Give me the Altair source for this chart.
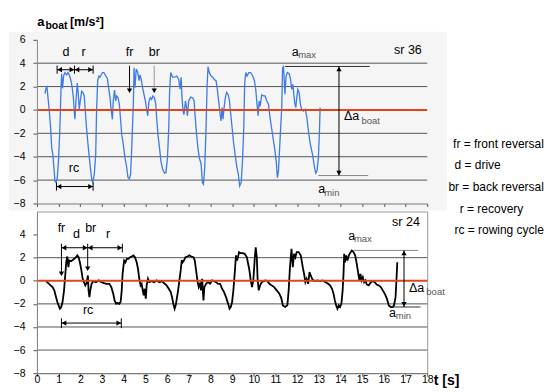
import altair as alt
import pandas as pd

FONT = "Liberation Sans"

# ---------------- data: boat acceleration, stroke rate 36 (top) ----------------
t_top = [0.37, 0.42, 0.46, 0.51, 0.57, 0.63, 0.68, 0.74, 0.78, 0.83, 0.88, 0.94, 1.0, 1.06, 1.11, 1.14, 1.18, 1.23, 1.29, 1.37,
         1.43, 1.51, 1.57, 1.63, 1.68, 1.72, 1.75, 1.8, 1.86, 1.91, 1.95, 2.0, 2.06, 2.12, 2.18, 2.23, 2.28, 2.34, 2.4, 2.48,
         2.54, 2.58, 2.65, 2.71, 2.75, 2.8, 2.86, 2.91, 3.02, 3.09, 3.18, 3.25, 3.31, 3.37, 3.43, 3.48, 3.52, 3.58, 3.63, 3.68,
         3.74, 3.8, 3.85, 3.91, 3.98, 4.06, 4.14, 4.2, 4.26, 4.32, 4.38, 4.45, 4.48, 4.52, 4.58, 4.65, 4.71, 4.75, 4.82, 4.88,
         4.94, 5.0, 5.06, 5.11, 5.17, 5.23, 5.29, 5.35, 5.42, 5.48, 5.52, 5.58, 5.65, 5.72, 5.8, 5.89, 5.95, 6.02, 6.08, 6.12,
         6.17, 6.26, 6.35, 6.45, 6.54, 6.6, 6.65, 6.69, 6.74, 6.78, 6.85, 6.89, 6.94, 7.0, 7.09, 7.18, 7.25, 7.29, 7.35, 7.42,
         7.49, 7.57, 7.63, 7.68, 7.74, 7.8, 7.85, 7.89, 7.95, 8.03, 8.11, 8.18, 8.26, 8.32, 8.38, 8.45, 8.49, 8.54, 8.58, 8.63,
         8.69, 8.75, 8.82, 8.88, 8.94, 9.0, 9.06, 9.14, 9.22, 9.29, 9.35, 9.42, 9.48, 9.54, 9.58, 9.63, 9.69, 9.77, 9.86, 9.95,
         10.03, 10.09, 10.15, 10.2, 10.25, 10.29, 10.37, 10.45, 10.52, 10.6, 10.68, 10.75, 10.83, 10.91, 10.98, 11.04, 11.09,
         11.14, 11.21, 11.29, 11.33, 11.37, 11.4, 11.44, 11.49, 11.55, 11.63, 11.69, 11.75, 11.8, 11.85, 11.89, 11.94, 11.98,
         12.03, 12.09, 12.15, 12.21, 12.28, 12.37, 12.45, 12.52, 12.61, 12.71, 12.8, 12.86, 12.92, 12.98, 13.03, 13.06]
a_top = [1.4, 1.85, 1.97, 1.05, -0.09, -1.51, -3.2, -3.9, -4.9, -6.07, -6.2, -5.8, -4.1, -1.5, 1.9, 3.1, 1.85, 2.9, 3.2, 3.0,
         3.2, 2.9, 2.5, 1.85, 1.05, -0.09, -0.8, 0.77, 2.3, 1.3, 0.06, 0.77, 1.6, 1.5, 1.2, -0.09, -1.37, -2.65, -3.8, -5.2,
         -6.07, -6.2, -5.4, -3.8, -0.1, 2.5, 2.9, 2.8, 3.2, 3.2, 2.9, 2.7, 1.85, 1.05, -0.1, -0.8, 0.77, 1.7, 0.77, 1.2,
         1.05, 0.5, -0.65, -2.1, -2.9, -4.1, -4.9, -5.8, -5.9, -5.5, -2.9, 0.77, 3.6, 1.9, 3.5, 3.2, 2.5, 3.0, 2.5, 1.85,
         1.3, 0.77, 0.06, -0.5, 0.77, 1.05, 0.9, 1.2, 1.05, 0.5, -0.65, -2.1, -3.2, -4.4, -5.1, -5.4, -5.35, -4.1, -1.5, 1.6,
         3.2, 2.8, 2.8, 2.9, 2.6, 1.77, 2.8, 1.05, -0.1, -0.4, 0.77, 0.3, -0.5, 0.77, 1.1, 1.05, 0.77, -0.4, -1.8, -3.2,
         -4.1, -4.6, -6.2, -6.35, -4.9, -1.5, 2.2, 3.7, 3.2, 2.9, 2.8, 2.6, 2.5, 1.77, 0.77, -0.4, -0.94, 0.2, -0.8, 0.2,
         1.05, 1.5, 1.3, 0.77, -0.4, -1.5, -2.65, -3.8, -4.9, -5.5, -6.5, -6.2, -4.4, -1.5, 2.2, 3.2, 2.9, 3.2, 3.2, 2.9,
         2.5, 1.77, 0.5, -0.5, 0.77, 0.3, 1.3, 1.2, 1.2, 0.77, 0.5, -0.65, -1.65, -2.65, -3.5, -4.5, -5.8,
         -5.2, -2.65, 0.2, 3.6, 3.7, 2.76, 1.34, 2.9, 3.2, 3.1, 2.7, 1.77, 2.2, 1.3, 0.6, 0.2, 1.0,
         1.77, 1.5, 0.48, 0.06, -0.1, 0.06, -0.65, -1.8, -2.95, -3.8, -4.9, -5.4, -5.2, -4.1, -1.8, 0.2]

# ---------------- data: boat acceleration, stroke rate 24 (bottom) ----------------
t_bot = [0.42, 0.52, 0.63, 0.72, 0.8, 0.88, 0.94, 1.0, 1.06, 1.12, 1.18, 1.25, 1.31, 1.35, 1.4, 1.45, 1.49, 1.57, 1.65, 1.72,
         1.8, 1.86, 1.92, 1.98, 2.05, 2.11, 2.17, 2.23, 2.29, 2.35, 2.38, 2.42, 2.46, 2.52, 2.6, 2.72, 2.85, 2.97, 3.09, 3.22,
         3.34, 3.43, 3.52, 3.58, 3.65, 3.72, 3.8, 3.86, 3.91, 3.95, 4.02, 4.08, 4.14, 4.22, 4.29, 4.37, 4.45, 4.52, 4.6, 4.66,
         4.72, 4.78, 4.83, 4.88, 4.92, 4.97, 5.02, 5.06, 5.12, 5.18, 5.29, 5.4, 5.52, 5.65, 5.77, 5.89, 5.98, 6.08, 6.17, 6.23,
         6.29, 6.35, 6.4, 6.45, 6.51, 6.57, 6.63, 6.68, 6.72, 6.78, 6.85, 6.94, 7.03, 7.12, 7.22, 7.28, 7.34, 7.4, 7.46, 7.52,
         7.57, 7.62, 7.68, 7.72, 7.8, 7.89, 7.98, 8.08, 8.17, 8.26, 8.35, 8.45, 8.54, 8.63, 8.72, 8.82, 8.88, 8.94, 9.0, 9.06,
         9.12, 9.18, 9.23, 9.28, 9.32, 9.4, 9.49, 9.58, 9.68, 9.74, 9.8, 9.86, 9.92, 9.98, 10.05, 10.09, 10.14, 10.18, 10.23,
         10.29, 10.37, 10.45, 10.54, 10.63, 10.72, 10.83, 10.94, 11.06, 11.18, 11.27, 11.34, 11.45, 11.55, 11.61, 11.67, 11.74,
         11.8, 11.86, 11.92, 11.98, 12.07, 12.17, 12.26, 12.32, 12.38, 12.44, 12.51, 12.57, 12.63, 12.69, 12.75, 12.84, 12.94,
         13.06, 13.18, 13.31, 13.43, 13.52, 13.61, 13.68, 13.74, 13.8, 13.86, 13.92, 13.98, 14.04, 14.1, 14.14, 14.17, 14.21,
         14.26, 14.32, 14.38, 14.44, 14.52, 14.6, 14.68, 14.75, 14.81, 14.87, 14.92, 14.97, 15.03, 15.09, 15.15, 15.21, 15.3,
         15.4, 15.49, 15.58, 15.67, 15.77, 15.86, 15.95, 16.04, 16.14, 16.23, 16.32, 16.41, 16.47, 16.54, 16.58, 16.62]
a_bot = [-0.03, -0.2, -0.4, -0.55, -0.83, -1.41, -1.84, -2.13, -2.42, -2.27, -1.84, -0.83, 0.6, 1.6, 2.1, 1.18, 1.75, 1.7, 1.8, 1.9,
         2.04, 2.2, 2.04, 1.6, 0.9, 0.17, -0.12, -0.4, -0.2, 0.46, -0.83, -1.41, -0.83, -0.26, -0.03, -0.12, 0.03, -0.12, -0.2, -0.26,
         -0.26, -0.55, -1.12, -1.7, -2.0, -1.93, -2.0, -1.84, -0.83, 0.6, 1.75, 1.6, 1.9, 1.9, 2.04, 2.1, 2.2, 2.04, 1.6, 1.04,
         0.17, -0.4, -0.26, -0.83, -1.27, -0.69, -1.55, -0.4, 0.17, -0.12, -0.03, -0.12, 0.03, -0.12, -0.03, -0.26, -0.4, -0.69, -0.98, -1.41,
         -2.0, -2.42, -2.13, -1.55, -0.83, 0.03, 0.9, 1.8, 1.6, 1.75, 2.04, 2.1, 2.2, 2.1, 2.04, 1.75, 0.9, 0.03, -0.55, -0.26,
         -0.83, 0.17, -1.7, -0.55, -0.26, -0.12, -0.26, 0.03, -0.03, -0.12, -0.26, -0.26, -0.69, -0.98, -1.41, -2.0, -2.42, -2.27, -1.84, -0.83,
         0.6, 2.2, 1.75, 2.1, 2.48, 2.39, 2.39, 2.33, 2.04, 1.47, 0.9, 0.03, -0.55, 0.03, 2.04, 2.9, 2.04, 0.03, -0.83,
         -0.4, -0.12, -0.03, 0.03, -0.03, -0.26, -0.4, -0.55, -0.83, -1.12, -1.5, -2.13, -2.27, -2.13, -0.83, 1.18, 2.76,
         1.17, 2.33, 2.04, 2.48, 2.48, 2.19, 1.18, 0.6, -0.12, 0.17, -0.26, 0.75, 0.46, 0.17, 0.03, -0.03, 0.03,
         -0.03, 0.03, -0.12, -0.26, -0.4, -0.69, -1.12, -1.7, -2.13, -2.42, -2.13, -2.27, -2.0, -0.83, 0.6, 2.33, 1.6,
         2.19, 1.75, 2.19, 2.39, 2.62, 2.48, 2.19, 1.47, 0.75, 0.03, 0.6, 0.03, 0.32, -0.12, 0.03, -0.32, -0.4,
         -0.12, -0.03, -0.12, -0.32, -0.4, -0.55, -0.83, -1.12, -1.55, -2.13, -2.27, -2.27, -2.13, -1.41, 0.03, 1.6]

x_ticks = list(range(0, 19))
y_ticks_top = [-8, -6, -4, -2, 0, 2, 4, 6]
y_ticks_bot = [-8, -6, -4, -2, 0, 2, 4]
grid_top = [-6, -4, -2, 2, 4]
grid_bot = [-6, -4, -2, 2]

# ---------------- annotations (in data units) ----------------
top_h = [(0.93, 1.73, 3.44, "#000"), (1.73, 2.59, 3.44, "#000"), (0.90, 2.59, -6.55, "#000"),
         (11.44, 15.35, 3.72, "#333"), (12.97, 15.28, -5.61, "#888")]
top_v = [(4.27, 3.78, 1.6, "#000"), (5.41, 3.78, 1.6, "#999"), (13.93, 3.72, -5.61, "#000"),
         (0.93, 3.1, 3.8, "#000"), (1.73, 3.1, 3.8, "#000"), (2.59, 3.1, 3.8, "#000"),
         (0.90, -6.2, -6.9, "#000"), (2.59, -6.2, -6.9, "#000")]
top_heads = [(0.93, 3.44, "L"), (1.73, 3.44, "R"), (1.73, 3.44, "L"), (2.59, 3.44, "R"),
             (0.90, -6.55, "L"), (2.59, -6.55, "R"), (4.27, 1.42, "D"), (5.41, 1.42, "D"),
             (13.93, 3.72, "U"), (13.93, -5.61, "D")]

bot_h = [(1.13, 2.34, 2.86, "#000"), (2.34, 3.94, 2.86, "#000"), (1.13, 3.89, -3.66, "#000"),
         (14.59, 17.58, 2.63, "#888"), (16.28, 17.69, -2.27, "#333")]
bot_v = [(1.13, 3.21, 0.55, "#000"), (2.34, 3.21, 1.0, "#000"), (16.93, 2.63, -2.27, "#000"),
         (3.94, 3.21, 2.45, "#000"), (1.13, -3.25, -4.1, "#000"), (3.89, -3.25, -4.1, "#000")]
bot_heads = [(1.13, 2.86, "L"), (2.34, 2.86, "R"), (2.34, 2.86, "L"), (3.94, 2.86, "R"),
             (1.13, -3.66, "L"), (3.89, -3.66, "R"), (1.13, 0.38, "D"), (2.34, 0.81, "D"),
             (16.93, 2.63, "U"), (16.93, -2.27, "D")]

top_txt_c = [("d", 1.34, 4.64, 12.5, "#000"), ("r", 2.15, 4.64, 12.5, "#000"), ("fr", 4.27, 4.64, 12.5, "#000"),
             ("br", 5.41, 4.64, 12.5, "#000"), ("rc", 1.71, -5.33, 12.5, "#000")]
top_txt_l = [("a", 11.75, 4.64, 12.5, "#000"), ("max", 12.05, 4.42, 9.5, "#555"),
             ("Δa", 14.16, -0.85, 12.5, "#000"), ("boat", 14.97, -1.2, 9.5, "#555"),
             ("a", 12.97, -7.12, 12.5, "#000"), ("min", 13.25, -7.32, 9.5, "#555")]
# legend lines on the right, anchored at their right ends (kept inside the page width)
top_txt_r = [("sr 36", 17.75, 4.78, 12.5, "#000"),
             ("fr = front reversal", 23.38, -3.24, 12, "#000"), ("d = drive", 21.39, -5.04, 12, "#000"),
             ("br = back reversal", 23.38, -6.89, 12, "#000")]
top_txt_b = [("a", 0.01, 7.2, 13, "#000"), ("boat", 0.39, 6.91, 10.5, "#000"), ("[m/s²]", 1.52, 7.2, 12.5, "#000")]

bot_txt_c = [("fr", 1.13, 4.21, 12.5, "#000"), ("d", 1.82, 3.72, 12.5, "#000"), ("br", 2.48, 4.21, 12.5, "#000"),
             ("r", 3.28, 3.72, 12.5, "#000"), ("rc", 2.36, -2.84, 12.5, "#000")]
bot_txt_l = [("a", 14.36, 3.49, 12.5, "#000"), ("max", 14.62, 3.32, 9.5, "#555"),
             ("Δa", 17.16, -0.97, 12.5, "#000"), ("boat", 17.96, -1.26, 9.5, "#555"),
             ("a", 16.24, -3.13, 12.5, "#000"), ("min", 16.55, -3.28, 9.5, "#555")]
bot_txt_r = [("sr 24", 17.66, 4.7, 12.5, "#000"),
             ("r = recovery", 22.43, 5.85, 12, "#000"), ("rc = rowing cycle", 23.38, 4.01, 12, "#000")]
bot_txt_b = [("t [s]", 18.3, -9.04, 14, "#000")]

top_bg = [(-1.30, 18.9, -8.6, 6.68)]

W = 391
H_TOP = 164
H_BOT = 162

xs = alt.Scale(domain=[0, 18], nice=False, zero=False)
ys = alt.Scale(domain=[-8, 6], nice=False, zero=False)


def X(field, labels):
    return alt.X(field, type="quantitative", scale=xs, title=None,
                 axis=alt.Axis(values=x_ticks, labels=labels, grid=False, tickSize=3, labelPadding=-1.5,
                               labelFlush=False, labelFontSize=10.5, labelColor="#000", tickColor="#555",
                               domainColor="#777", zindex=1))


def Y(field, ticks):
    return alt.Y(field, type="quantitative", scale=ys, title=None,
                 axis=alt.Axis(values=ticks, grid=False, tickSize=4, labelPadding=8, labelFlush=False,
                               labelFontSize=10.5, labelColor="#000", tickColor="#555", domainColor="#888",
                               zindex=1))


def panel(t, a, color, lw, yt, grid, labels, hs, vs, heads, tc, tl, tr, tb, h, bg=None):
    layers = []
    if bg:
        dbg = pd.DataFrame(bg, columns=["t1", "t2", "v1", "v2"])
        layers.append(alt.Chart(dbg).mark_rect(color="#f5f5f5", clip=False).encode(
            x=X("t1", labels), x2="t2", y=Y("v1", yt), y2="v2"))
    dg = pd.DataFrame({"g": grid})
    layers.append(alt.Chart(dg).mark_rule(color="#555", strokeWidth=1).encode(y=Y("g", yt)))
    dl = pd.DataFrame({"t": t, "a": a})
    layers.append(alt.Chart(dl).mark_line(color=color, strokeWidth=lw, interpolate="linear").encode(
        x=X("t", labels), y=Y("a", yt)))
    layers.append(alt.Chart(pd.DataFrame({"z": [0]})).mark_rule(color="#e2441c", strokeWidth=2).encode(
        y=Y("z", yt)))
    dh = pd.DataFrame(hs, columns=["t1", "t2", "v", "c"])
    layers.append(alt.Chart(dh).mark_rule(strokeWidth=1, clip=False).encode(
        x=X("t1", labels), x2="t2", y=Y("v", yt), color=alt.Color("c:N", scale=None)))
    dv = pd.DataFrame(vs, columns=["t", "v1", "v2", "c"])
    layers.append(alt.Chart(dv).mark_rule(strokeWidth=1, clip=False).encode(
        x=X("t", labels), y=Y("v1", yt), y2="v2", color=alt.Color("c:N", scale=None)))
    kt = 2.6 * 18 / W
    kv = 2.6 * 14 / h
    shp = {"L": "triangle-left", "R": "triangle-right", "U": "triangle-up", "D": "triangle-down"}
    rows = []
    for (tt, vv, d) in heads:
        ct = tt + (kt if d == "L" else -kt if d == "R" else 0)
        cv = vv + (kv if d == "D" else -kv if d == "U" else 0)
        rows.append((ct, cv, shp[d]))
    dhd = pd.DataFrame(rows, columns=["t", "v", "s"])
    layers.append(alt.Chart(dhd).mark_point(filled=True, size=28, opacity=1, color="#000", clip=False).encode(
        x=X("t", labels), y=Y("v", yt), shape=alt.Shape("s:N", scale=None)))
    for rows_, al, fw in [(tc, "center", "normal"), (tl, "left", "normal"), (tr, "right", "normal"), (tb, "left", "bold")]:
        if not rows_:
            continue
        dt = pd.DataFrame(rows_, columns=["txt", "t", "v", "sz", "c"])
        layers.append(alt.Chart(dt).mark_text(align=al, baseline="alphabetic", fontWeight=fw, font=FONT,
                                              clip=False).encode(
            x=X("t", labels), y=Y("v", yt), text="txt:N",
            size=alt.Size("sz:Q", scale=None), color=alt.Color("c:N", scale=None)))
    return alt.layer(*layers).properties(width=W, height=h)


top = panel(t_top, a_top, "#3d7be6", 1.3, y_ticks_top, grid_top, False, top_h, top_v, top_heads,
            top_txt_c, top_txt_l, top_txt_r, top_txt_b, H_TOP, bg=top_bg)
bot = panel(t_bot, a_bot, "#000000", 1.8, y_ticks_bot, grid_bot, True, bot_h, bot_v, bot_heads,
            bot_txt_c, bot_txt_l, bot_txt_r, bot_txt_b, H_BOT)

chart = alt.vconcat(top, bot, spacing=8, bounds="flush").properties(
    padding={"left": 0, "top": 6.5, "right": 0, "bottom": 0}, background="white"
).configure(font=FONT).configure_view(stroke="#999", strokeWidth=1)

chart.save("out.html", embed_options={"renderer": "svg", "actions": False})
